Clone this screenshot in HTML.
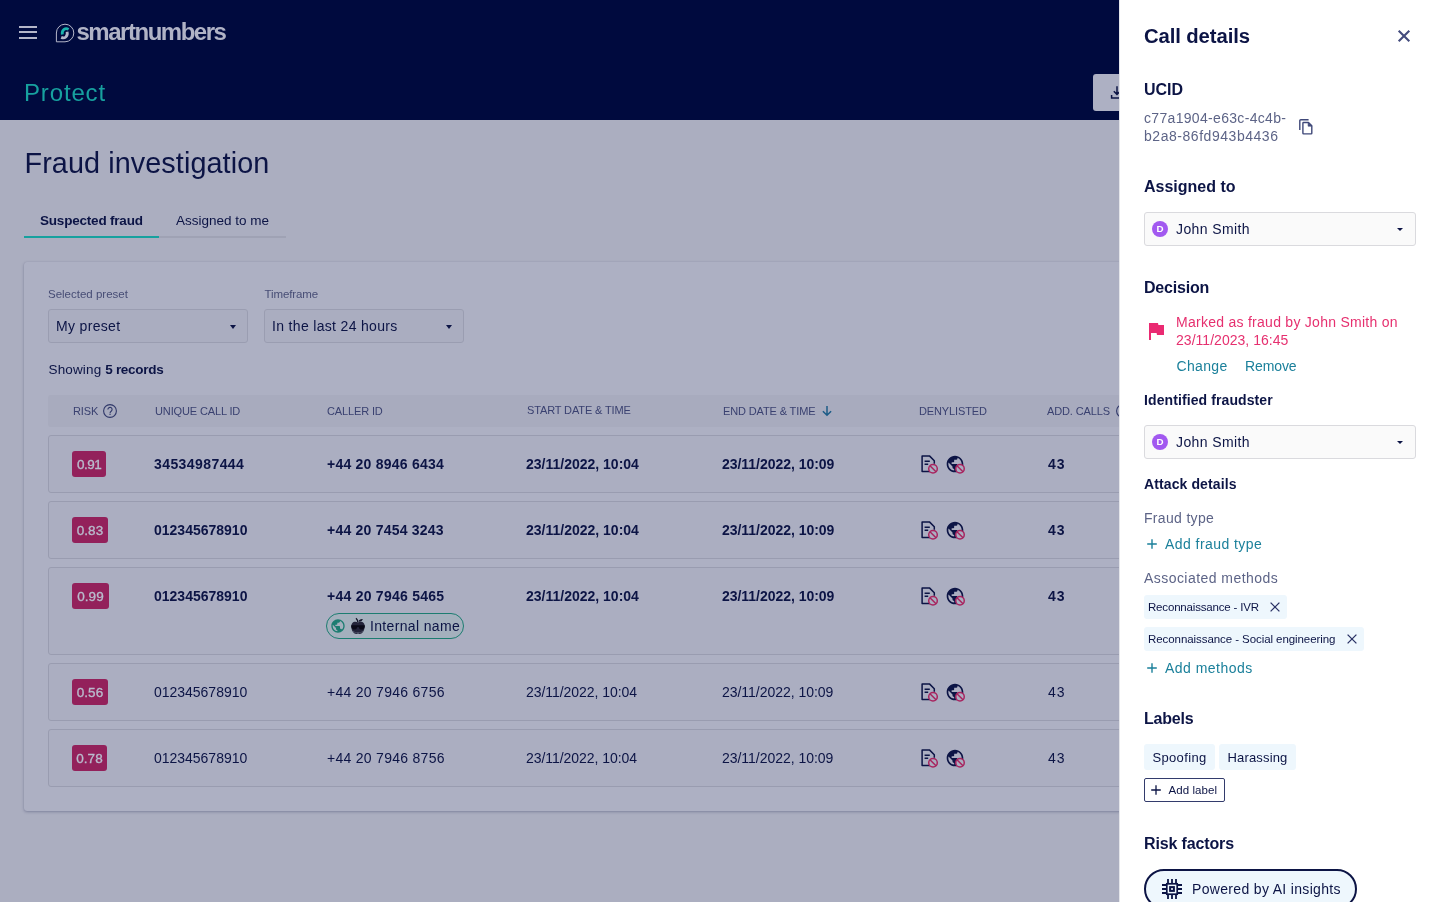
<!DOCTYPE html>
<html lang="en">
<head>
<meta charset="utf-8">
<title>Fraud investigation</title>
<style>
*{box-sizing:border-box;margin:0;padding:0}
html,body{width:1440px;height:902px;overflow:hidden}
body{font-family:"Liberation Sans",sans-serif;background:#abaec0;color:#0c1445;position:relative}
.abs{position:absolute;white-space:nowrap}
/* ---------- top bar ---------- */
#top{position:absolute;left:0;top:0;width:1440px;height:120px;background:#000a3e}
#burger{position:absolute;left:19px;top:25.700px;width:18px;height:14px}
#burger i{position:absolute;left:0;width:18px;height:2px;background:#b4b6c9}
#logo-txt{left:76.500px;top:17px;font-size:24px;font-weight:700;letter-spacing:-1.480px;color:#b0b3c6;line-height:30px}
#protect{left:24px;top:77.500px;font-size:24px;color:#17a19f;line-height:30px;letter-spacing:.85px}
#dl-btn{position:absolute;left:1093px;top:74px;width:60px;height:37px;border-radius:3px;background:#adb0c3}
/* ---------- main ---------- */
#h1{left:24.500px;top:143.800px;font-size:28.800px;line-height:38px;color:#0c1445;letter-spacing:.08px}
.tab{top:212px;font-size:13.5px;line-height:18px;color:#0c1445}
#tabline{position:absolute;left:24px;top:236px;width:262px;height:2px;background:#9fa2b4}
#tabact{position:absolute;left:24px;top:236px;width:135px;height:2px;background:#17a19f}
#card{position:absolute;left:24px;top:262px;width:1200px;height:549px;background:#adb0c3;border-radius:3px;box-shadow:0 1px 3px rgba(0,10,62,.26),0 0 1px rgba(0,10,62,.16)}
.lbl{font-size:11.5px;line-height:14px;color:#474d75}
.sel{position:absolute;height:34px;border:1px solid #9a9db1;border-radius:3px;background:#aaadc0}
.sel span{position:absolute;left:7px;top:7px;font-size:14px;line-height:18px;color:#0c1445;white-space:nowrap;letter-spacing:.33px}
.sel b{position:absolute;right:11.500px;top:15px;width:0;height:0;border-left:3.500px solid transparent;border-right:3.500px solid transparent;border-top:4px solid #0c1445}
#showing{left:48.500px;top:361px;font-size:13.5px;line-height:18px;color:#0c1445}
#thead{position:absolute;left:48px;top:395px;width:1100px;height:32px;background:#a8abbe;border-radius:3px}
.th{top:404px;font-size:11px;line-height:14px;color:#3a4170;letter-spacing:-.13px}
.row{position:absolute;left:48px;width:1100px;border:1px solid #999cb0;border-radius:3px;background:#abaec1}
.badge{position:absolute;left:72px;width:35px;height:26px;border-radius:3px;background:#93215b;color:#b9bccd;font-size:13.500px;line-height:28px;text-align:center;-webkit-text-stroke:.35px #b9bccd}
.c{font-size:14px;line-height:18px;color:#0c1445}
.bd{font-weight:700}
/* ---------- panel ---------- */
#panel{position:absolute;left:1119px;top:0;width:321px;height:902px;background:#fff;border-left:1px solid #e4e5ea}
.h2{font-weight:700;color:#0c1445;font-size:16px;line-height:22px;margin-top:1px}
.h3{font-weight:700;color:#0c1445;font-size:14px;line-height:20px}
.muted{color:#5d6487;font-size:14px;line-height:18px}
.link{color:#1b809b;font-size:14px;line-height:18px}
.psel{position:absolute;left:1144px;width:272px;height:34px;border:1px solid #dadade;border-radius:3px;background:#fafafa}
.psel .av{font-style:normal;position:absolute;left:7px;top:8px;width:16px;height:16px;border-radius:50%;background:#a259f0;color:#fff;font-size:9.800px;font-weight:700;line-height:16.500px;text-align:center}
.psel span{position:absolute;left:31px;top:7px;font-size:14px;line-height:18px;color:#0c1445;white-space:nowrap;letter-spacing:.39px}
.psel b{position:absolute;right:12px;top:15px;width:0;height:0;border-left:3.300px solid transparent;border-right:3.300px solid transparent;border-top:3.800px solid #0c1445}
.chip{position:absolute;left:1144px;height:24px;border-radius:3px;background:#eef7fd;font-size:11.5px;line-height:24px;color:#0c1445;padding-left:4px;white-space:nowrap}
.lchip{position:absolute;height:26px;border-radius:3px;background:#eef7fd;font-size:13px;line-height:28px;color:#0c1445;text-align:center;white-space:nowrap}
</style>
</head>
<body>
<div id="root" style="position:absolute;left:0;top:0;width:1440px;height:902px;overflow:hidden;will-change:transform">
<!-- TOP BAR -->
<div id="top"></div>
<div id="burger"><i style="top:0"></i><i style="top:5.700px"></i><i style="top:11.300px"></i></div>
<div class="abs" id="logo-txt">smartnumbers</div>
<div class="abs" id="protect">Protect</div>
<div id="dl-btn"></div>
<svg class="abs" style="left:55px;top:23px" width="20" height="20" viewBox="0 0 20 20">
<path d="M10 1.2a8.8 8.8 0 1 1 0 17.6H1.4V10A8.7 8.7 0 0 1 10 1.2z" fill="none" stroke="#b4b6c9" stroke-width="1"/>
<path d="M13.600 6.400C10.400 4.600 6.700 6.600 7.300 11.500" fill="none" stroke="#19b3ad" stroke-width="2.800"/>
<path d="M6.200 14.400C9.600 15.900 13.100 13.600 12.100 8.800" fill="none" stroke="#b4b6c9" stroke-width="2.800"/>
</svg>
<svg class="abs" style="left:1109px;top:84px" width="16" height="16" viewBox="0 0 16 16" fill="none" stroke="#0c1445" stroke-width="1.5"><path d="M8 2.2v8.2M4.8 7.2L8 10.4l3.2-3.2M2.6 11v3h10.8v-3"/></svg>

<!-- MAIN -->
<div class="abs" id="h1">Fraud investigation</div>
<div class="abs tab bd" style="left:40px;letter-spacing:-.2px">Suspected fraud</div>
<div class="abs tab" style="left:176px">Assigned to me</div>
<div id="tabline"></div><div id="tabact"></div>
<div id="card"></div>
<div class="abs lbl" style="left:48px;top:287px">Selected preset</div>
<div class="abs lbl" style="left:264.500px;top:287px;letter-spacing:-.1px">Timeframe</div>
<div class="sel" style="left:48px;top:309px;width:200px"><span>My preset</span><b></b></div>
<div class="sel" style="left:264px;top:309px;width:200px"><span>In the last 24 hours</span><b></b></div>
<div class="abs" id="showing"><span style="letter-spacing:.15px">Showing </span><span class="bd" style="letter-spacing:-.3px">5 records</span></div>
<div id="thead"></div>
<div class="abs th" style="left:73px">RISK</div>
<div class="abs th" style="left:155px">UNIQUE CALL ID</div>
<div class="abs th" style="left:327px">CALLER ID</div>
<div class="abs th" style="left:527px;top:403px">START DATE &amp; TIME</div>
<div class="abs th" style="left:723px">END DATE &amp; TIME</div>
<div class="abs th" style="left:919px">DENYLISTED</div>
<div class="abs th" style="left:1047px">ADD. CALLS</div>
<div class="row" style="top:435px;height:58px"></div>
<div class="badge" style="top:451px;width:34px;letter-spacing:-.45px;text-indent:.4px">0.91</div>
<div class="abs c bd" style="left:154px;top:455px;letter-spacing:.42px">34534987444</div>
<div class="abs c bd" style="left:327px;top:455px;letter-spacing:0.23px">+44 20 8946 6434</div>
<div class="abs c bd" style="left:526px;top:455px;letter-spacing:0px">23/11/2022, 10:04</div>
<div class="abs c bd" style="left:722px;top:455px;letter-spacing:-0.03px">23/11/2022, 10:09</div>
<div class="abs c bd" style="left:1048px;top:455px;letter-spacing:1px">43</div>
<div class="row" style="top:501px;height:58px"></div>
<div class="badge" style="top:517px;width:36px">0.83</div>
<div class="abs c bd" style="left:154px;top:521px;letter-spacing:0px">012345678910</div>
<div class="abs c bd" style="left:327px;top:521px;letter-spacing:0.22px">+44 20 7454 3243</div>
<div class="abs c bd" style="left:526px;top:521px;letter-spacing:0px">23/11/2022, 10:04</div>
<div class="abs c bd" style="left:722px;top:521px;letter-spacing:-0.03px">23/11/2022, 10:09</div>
<div class="abs c bd" style="left:1048px;top:521px;letter-spacing:1px">43</div>
<div class="row" style="top:567px;height:88px"></div>
<div class="badge" style="top:583px;width:37px">0.99</div>
<div class="abs c bd" style="left:154px;top:587px;letter-spacing:0px">012345678910</div>
<div class="abs c bd" style="left:327px;top:587px;letter-spacing:0.25px">+44 20 7946 5465</div>
<div class="abs c bd" style="left:526px;top:587px;letter-spacing:0px">23/11/2022, 10:04</div>
<div class="abs c bd" style="left:722px;top:587px;letter-spacing:-0.03px">23/11/2022, 10:09</div>
<div class="abs c bd" style="left:1048px;top:587px;letter-spacing:1px">43</div>
<div class="row" style="top:663px;height:58px"></div>
<div class="badge" style="top:679px;width:36px">0.56</div>
<div class="abs c" style="left:154px;top:683px;letter-spacing:-0.02px">012345678910</div>
<div class="abs c" style="left:327px;top:683px;letter-spacing:0.28px">+44 20 7946 6756</div>
<div class="abs c" style="left:526px;top:683px;letter-spacing:-0.05px">23/11/2022, 10:04</div>
<div class="abs c" style="left:722px;top:683px;letter-spacing:-0.03px">23/11/2022, 10:09</div>
<div class="abs c" style="left:1048px;top:683px;letter-spacing:1px">43</div>
<div class="row" style="top:729px;height:58px"></div>
<div class="badge" style="top:745px;width:35px">0.78</div>
<div class="abs c" style="left:154px;top:749px;letter-spacing:-0.02px">012345678910</div>
<div class="abs c" style="left:327px;top:749px;letter-spacing:0.28px">+44 20 7946 8756</div>
<div class="abs c" style="left:526px;top:749px;letter-spacing:-0.05px">23/11/2022, 10:04</div>
<div class="abs c" style="left:722px;top:749px;letter-spacing:-0.03px">23/11/2022, 10:09</div>
<div class="abs c" style="left:1048px;top:749px;letter-spacing:1px">43</div>
<svg class="abs" style="left:102px;top:403px" width="16" height="16" viewBox="0 0 16 16" fill="none" stroke="#303869"><circle cx="8" cy="8" r="6.4" stroke-width="1.1"/><path d="M5.9 6.5a2.1 2.1 0 1 1 3.3 1.7c-.7.5-1.1.9-1.1 1.7" stroke-width="1.1"/><circle cx="8.05" cy="11.3" r=".7" fill="#303869" stroke="none"/></svg>
<svg class="abs" style="left:1115px;top:403px" width="16" height="16" viewBox="0 0 16 16" fill="none" stroke="#303869"><circle cx="8" cy="8" r="6.4" stroke-width="1.1"/><path d="M5.9 6.5a2.1 2.1 0 1 1 3.3 1.7c-.7.5-1.1.9-1.1 1.7" stroke-width="1.1"/><circle cx="8.05" cy="11.3" r=".7" fill="#303869" stroke="none"/></svg>
<svg class="abs" style="left:821px;top:405px" width="12" height="12" viewBox="0 0 12 12" fill="none" stroke="#1c5c87" stroke-width="1.5"><path d="M6 1v9.2M1.9 6.2L6 10.3l4.1-4.1"/></svg>
<svg class="abs" style="left:920px;top:455.2px" width="20" height="20" viewBox="0 0 20 20"><path d="M10.2 16.6H2.1V1.1h7.6l4.6 4.6v3" fill="none" stroke="#0c1445" stroke-width="1.5" stroke-linejoin="round"/><path d="M4.6 6.2h5.2M4.6 9.3h3.6" stroke="#0c1445" stroke-width="1.4" fill="none"/><circle cx="13" cy="13.8" r="4.3" fill="#abaec1" stroke="#a8245f" stroke-width="1.5"/><path d="M10 10.8l6 6" stroke="#a8245f" stroke-width="1.5"/></svg>
<svg class="abs" style="left:945.200px;top:454px" width="20" height="20" viewBox="0 0 24 24"><path fill="#0c1445" d="M12 2C6.480 2 2 6.480 2 12s4.480 10 10 10 10-4.480 10-10S17.520 2 12 2zm-1 17.930c-3.950-.490-7-3.850-7-7.930 0-.620.080-1.210.210-1.790L9 15v1c0 1.100.9 2 2 2v1.930zm6.900-2.540c-.260-.810-1-1.390-1.900-1.390h-1v-3c0-.550-.450-1-1-1H8v-2h2c.550 0 1-.450 1-1V7h2c1.100 0 2-.9 2-2v-.410c2.930 1.190 5 4.060 5 7.410 0 2.080-.8 3.970-2.100 5.390z"/></svg>
<svg class="abs" style="left:954px;top:463px" width="12" height="12" viewBox="0 0 12 12"><circle cx="6" cy="5.800" r="4.250" fill="#abaec1" stroke="#a8245f" stroke-width="1.500"/><path d="M3 2.800l6 6" stroke="#a8245f" stroke-width="1.500"/></svg>
<svg class="abs" style="left:920px;top:521.2px" width="20" height="20" viewBox="0 0 20 20"><path d="M10.2 16.6H2.1V1.1h7.6l4.6 4.6v3" fill="none" stroke="#0c1445" stroke-width="1.5" stroke-linejoin="round"/><path d="M4.6 6.2h5.2M4.6 9.3h3.6" stroke="#0c1445" stroke-width="1.4" fill="none"/><circle cx="13" cy="13.8" r="4.3" fill="#abaec1" stroke="#a8245f" stroke-width="1.5"/><path d="M10 10.8l6 6" stroke="#a8245f" stroke-width="1.5"/></svg>
<svg class="abs" style="left:945.200px;top:520px" width="20" height="20" viewBox="0 0 24 24"><path fill="#0c1445" d="M12 2C6.480 2 2 6.480 2 12s4.480 10 10 10 10-4.480 10-10S17.520 2 12 2zm-1 17.930c-3.950-.490-7-3.850-7-7.930 0-.620.080-1.210.210-1.790L9 15v1c0 1.100.9 2 2 2v1.930zm6.900-2.540c-.260-.810-1-1.390-1.900-1.390h-1v-3c0-.550-.450-1-1-1H8v-2h2c.550 0 1-.450 1-1V7h2c1.100 0 2-.9 2-2v-.410c2.930 1.190 5 4.060 5 7.410 0 2.080-.8 3.970-2.100 5.390z"/></svg>
<svg class="abs" style="left:954px;top:529px" width="12" height="12" viewBox="0 0 12 12"><circle cx="6" cy="5.800" r="4.250" fill="#abaec1" stroke="#a8245f" stroke-width="1.500"/><path d="M3 2.800l6 6" stroke="#a8245f" stroke-width="1.500"/></svg>
<svg class="abs" style="left:920px;top:587.2px" width="20" height="20" viewBox="0 0 20 20"><path d="M10.2 16.6H2.1V1.1h7.6l4.6 4.6v3" fill="none" stroke="#0c1445" stroke-width="1.5" stroke-linejoin="round"/><path d="M4.6 6.2h5.2M4.6 9.3h3.6" stroke="#0c1445" stroke-width="1.4" fill="none"/><circle cx="13" cy="13.8" r="4.3" fill="#abaec1" stroke="#a8245f" stroke-width="1.5"/><path d="M10 10.8l6 6" stroke="#a8245f" stroke-width="1.5"/></svg>
<svg class="abs" style="left:945.200px;top:586px" width="20" height="20" viewBox="0 0 24 24"><path fill="#0c1445" d="M12 2C6.480 2 2 6.480 2 12s4.480 10 10 10 10-4.480 10-10S17.520 2 12 2zm-1 17.930c-3.950-.490-7-3.850-7-7.930 0-.620.080-1.210.210-1.790L9 15v1c0 1.100.9 2 2 2v1.930zm6.900-2.540c-.260-.810-1-1.390-1.900-1.390h-1v-3c0-.550-.450-1-1-1H8v-2h2c.550 0 1-.450 1-1V7h2c1.100 0 2-.9 2-2v-.410c2.930 1.190 5 4.060 5 7.410 0 2.080-.8 3.970-2.100 5.390z"/></svg>
<svg class="abs" style="left:954px;top:595px" width="12" height="12" viewBox="0 0 12 12"><circle cx="6" cy="5.800" r="4.250" fill="#abaec1" stroke="#a8245f" stroke-width="1.500"/><path d="M3 2.800l6 6" stroke="#a8245f" stroke-width="1.500"/></svg>
<svg class="abs" style="left:920px;top:683.2px" width="20" height="20" viewBox="0 0 20 20"><path d="M10.2 16.6H2.1V1.1h7.6l4.6 4.6v3" fill="none" stroke="#0c1445" stroke-width="1.5" stroke-linejoin="round"/><path d="M4.6 6.2h5.2M4.6 9.3h3.6" stroke="#0c1445" stroke-width="1.4" fill="none"/><circle cx="13" cy="13.8" r="4.3" fill="#abaec1" stroke="#a8245f" stroke-width="1.5"/><path d="M10 10.8l6 6" stroke="#a8245f" stroke-width="1.5"/></svg>
<svg class="abs" style="left:945.200px;top:682px" width="20" height="20" viewBox="0 0 24 24"><path fill="#0c1445" d="M12 2C6.480 2 2 6.480 2 12s4.480 10 10 10 10-4.480 10-10S17.520 2 12 2zm-1 17.930c-3.950-.490-7-3.850-7-7.930 0-.620.080-1.210.210-1.790L9 15v1c0 1.100.9 2 2 2v1.930zm6.900-2.540c-.260-.810-1-1.390-1.900-1.390h-1v-3c0-.550-.450-1-1-1H8v-2h2c.550 0 1-.450 1-1V7h2c1.100 0 2-.9 2-2v-.410c2.930 1.190 5 4.060 5 7.410 0 2.080-.8 3.970-2.100 5.390z"/></svg>
<svg class="abs" style="left:954px;top:691px" width="12" height="12" viewBox="0 0 12 12"><circle cx="6" cy="5.800" r="4.250" fill="#abaec1" stroke="#a8245f" stroke-width="1.500"/><path d="M3 2.800l6 6" stroke="#a8245f" stroke-width="1.500"/></svg>
<svg class="abs" style="left:920px;top:749.2px" width="20" height="20" viewBox="0 0 20 20"><path d="M10.2 16.6H2.1V1.1h7.6l4.6 4.6v3" fill="none" stroke="#0c1445" stroke-width="1.5" stroke-linejoin="round"/><path d="M4.6 6.2h5.2M4.6 9.3h3.6" stroke="#0c1445" stroke-width="1.4" fill="none"/><circle cx="13" cy="13.8" r="4.3" fill="#abaec1" stroke="#a8245f" stroke-width="1.5"/><path d="M10 10.8l6 6" stroke="#a8245f" stroke-width="1.5"/></svg>
<svg class="abs" style="left:945.200px;top:748px" width="20" height="20" viewBox="0 0 24 24"><path fill="#0c1445" d="M12 2C6.480 2 2 6.480 2 12s4.480 10 10 10 10-4.480 10-10S17.520 2 12 2zm-1 17.930c-3.950-.490-7-3.850-7-7.930 0-.620.080-1.210.210-1.790L9 15v1c0 1.100.9 2 2 2v1.930zm6.900-2.540c-.260-.810-1-1.390-1.900-1.390h-1v-3c0-.550-.450-1-1-1H8v-2h2c.550 0 1-.450 1-1V7h2c1.100 0 2-.9 2-2v-.410c2.930 1.190 5 4.060 5 7.410 0 2.080-.8 3.970-2.100 5.390z"/></svg>
<svg class="abs" style="left:954px;top:757px" width="12" height="12" viewBox="0 0 12 12"><circle cx="6" cy="5.800" r="4.250" fill="#abaec1" stroke="#a8245f" stroke-width="1.500"/><path d="M3 2.800l6 6" stroke="#a8245f" stroke-width="1.500"/></svg>
<div class="abs" style="left:326px;top:613px;width:138px;height:26px;border:1.3px solid #1c7d71;border-radius:13px;background:#a4b0bd"></div>
<svg class="abs" style="left:330px;top:618px" width="16" height="16" viewBox="0 0 24 24"><path fill="#1c7d71" d="M12 2C6.480 2 2 6.480 2 12s4.480 10 10 10 10-4.480 10-10S17.520 2 12 2zm-1 17.930c-3.950-.490-7-3.850-7-7.930 0-.620.080-1.210.210-1.790L9 15v1c0 1.100.9 2 2 2v1.930zm6.900-2.540c-.260-.810-1-1.390-1.900-1.390h-1v-3c0-.550-.450-1-1-1H8v-2h2c.550 0 1-.450 1-1V7h2c1.100 0 2-.9 2-2v-.410c2.930 1.190 5 4.060 5 7.410 0 2.080-.8 3.970-2.100 5.390z"/></svg>
<svg class="abs" style="left:350px;top:617px" width="16" height="18" viewBox="0 0 16 18">
<path d="M8 5.600C6.500 4.500 3.600 4.400 2.200 6.300.6 8.400 1.200 12.500 3 15c1.300 1.800 3.200 2.400 5 1.500 1.800.9 3.700.3 5-1.500 1.800-2.500 2.400-6.600.8-8.700C12.400 4.400 9.500 4.500 8 5.600z" fill="#23243a"/>
<path d="M7.800 5.400C7.900 3.800 7.300 2.400 6 1.200" fill="none" stroke="#15162b" stroke-width="1.300"/>
<path d="M8.200 4.600c.8-1.800 2.400-2.800 4.600-2.600-.4 1.900-2.100 3-4.600 2.600z" fill="#15162b"/>
<path d="M1.200 8.200h13.600v1.200c-.3 2-1.600 3.100-3.200 3.100-1.500 0-2.600-1-3-2.600h-1.200c-.4 1.600-1.500 2.600-3 2.600-1.600 0-2.900-1.100-3.200-3.100z" fill="#0a0a18"/>
<path d="M3 14.200c1.500 1.300 3.200 1.700 5 1.200 1.800.5 3.500.1 5-1.200" fill="none" stroke="#55586e" stroke-width=".8"/>
</svg>
<div class="abs" style="left:370px;top:617px;font-size:14px;line-height:18px;color:#0c1445;letter-spacing:.34px">Internal name</div>

<!-- PANEL -->
<div id="panel"></div>
<div class="abs" style="left:1144px;top:22px;font-size:20.300px;line-height:28px;font-weight:700;color:#0c1445;letter-spacing:-.1px">Call details</div>
<svg class="abs" style="left:1397px;top:29px" width="14" height="14" viewBox="0 0 14 14"><path d="M1.700 1.700L12.300 12.300M12.300 1.700L1.700 12.300" stroke="#434b7d" stroke-width="2.100" fill="none"/></svg>
<div class="abs h2" style="left:1144px;top:78px">UCID</div>
<div class="abs muted" style="left:1144px;top:109px;letter-spacing:.32px">c77a1904-e63c-4c4b-</div>
<div class="abs muted" style="left:1144px;top:127px;letter-spacing:.54px">b2a8-86fd943b4436</div>
<div class="abs h2" style="left:1144px;top:175px">Assigned to</div>
<div class="psel" style="top:212px"><i class="av">D</i><span>John Smith</span><b></b></div>
<div class="abs h2" style="left:1144px;top:276px;letter-spacing:-.2px">Decision</div>
<div class="abs" style="left:1176px;top:313px;font-size:14px;line-height:18px;color:#e6306f;letter-spacing:.27px">Marked as fraud by John Smith on</div>
<div class="abs" style="left:1176px;top:331px;font-size:14px;line-height:18px;color:#e6306f;letter-spacing:.03px">23/11/2023, 16:45</div>
<div class="abs link" style="left:1176.500px;top:357px;letter-spacing:.35px">Change</div>
<div class="abs link" style="left:1245px;top:357px;letter-spacing:-.1px">Remove</div>
<div class="abs h3" style="left:1144px;top:390px;letter-spacing:.1px">Identified fraudster</div>
<div class="psel" style="top:425px"><i class="av">D</i><span>John Smith</span><b></b></div>
<div class="abs h3" style="left:1144px;top:474px;letter-spacing:.11px">Attack details</div>
<div class="abs muted" style="left:1144px;top:509px;letter-spacing:.32px">Fraud type</div>
<div class="abs link" style="left:1165px;top:535px;letter-spacing:.44px">Add fraud type</div>
<div class="abs muted" style="left:1144px;top:569px;letter-spacing:.45px">Associated methods</div>
<div class="chip" style="top:595px;width:143px;letter-spacing:-.18px">Reconnaissance - IVR</div>
<div class="chip" style="top:627px;width:220px;letter-spacing:-.07px">Reconnaissance - Social engineering</div>
<div class="abs link" style="left:1165px;top:659px;letter-spacing:.47px">Add methods</div>
<div class="abs h2" style="left:1144px;top:707px;letter-spacing:-.2px">Labels</div>
<div class="lchip" style="left:1144px;top:744px;width:71px;letter-spacing:.35px">Spoofing</div>
<div class="lchip" style="left:1219px;top:744px;width:77px;letter-spacing:.16px">Harassing</div>
<div class="abs" style="left:1144px;top:778px;width:81px;height:24px;border:1px solid #333b6c;border-radius:2px;background:#fff"></div>
<div class="abs" style="left:1168.500px;top:783px;font-size:11.500px;line-height:14px;color:#0c1445;letter-spacing:.06px">Add label</div>
<div class="abs h2" style="left:1144px;top:832px;letter-spacing:-.14px">Risk factors</div>
<div class="abs" style="left:1144px;top:869px;width:213px;height:40px;border:2px solid #0c1445;border-radius:20px;background:#eef7fd"></div>
<div class="abs" style="left:1192px;top:880px;font-size:14px;line-height:18px;color:#0c1445;letter-spacing:.33px">Powered by AI insights</div>
<svg class="abs" style="left:1298px;top:118px" width="16" height="18" viewBox="0 0 16 18" fill="none" stroke="#3f4879" stroke-width="1.400" stroke-linejoin="round"><path d="M10.600 1.700H2.800c-.6 0-1 .4-1 1v9.400"/><path d="M5.600 4.500h4.900l3.300 3.300v7.400c0 .4-.300.700-.7.700H5.600c-.4 0-.7-.3-.7-.7v-10c0-.4.300-.7.700-.7z"/><path d="M10.100 4.700v3.500h3.500z" fill="#3f4879" stroke-width=".6"/></svg>
<svg class="abs" style="left:1144px;top:319px" width="24" height="24" viewBox="0 0 24 24"><path fill="#ea2a72" d="M14.400 6L14 4H5v17h2v-7h5.600l.4 2h7V6z"/></svg>
<svg class="abs" style="left:1144px;top:536px" width="16" height="16" viewBox="0 0 16 16"><path d="M8 3.2v9.6M3.2 8h9.6" stroke="#1b809b" stroke-width="1.4" fill="none"/></svg>
<svg class="abs" style="left:1144px;top:660px" width="16" height="16" viewBox="0 0 16 16"><path d="M8 3.2v9.6M3.2 8h9.6" stroke="#1b809b" stroke-width="1.4" fill="none"/></svg>
<svg class="abs" style="left:1267px;top:599px" width="16" height="16" viewBox="0 0 16 16"><path d="M3.600 3.600l8.800 8.800M12.400 3.600l-8.800 8.800" stroke="#2a3265" stroke-width="1.300" fill="none"/></svg>
<svg class="abs" style="left:1344px;top:631px" width="16" height="16" viewBox="0 0 16 16"><path d="M3.600 3.600l8.800 8.800M12.400 3.600l-8.800 8.800" stroke="#2a3265" stroke-width="1.300" fill="none"/></svg>
<svg class="abs" style="left:1148px;top:782px" width="16" height="16" viewBox="0 0 16 16"><path d="M8 3.2v9.6M3.2 8h9.6" stroke="#0c1445" stroke-width="1.3" fill="none"/></svg>
<svg class="abs" style="left:1162px;top:879px" width="20" height="20" viewBox="0 0 20 20" fill="none" stroke="#0c1445"><path d="M6 0v4M6 16v4M0 6h4M16 6h4M10 0v4M10 16v4M0 10h4M16 10h4M14 0v4M14 16v4M0 14h4M16 14h4" stroke-width="1.800"/><rect x="4.800" y="4.800" width="10.400" height="10.400" stroke-width="1.700"/><rect x="8.100" y="8.100" width="3.800" height="3.800" stroke-width="2"/></svg>
</div>
</body>
</html>
